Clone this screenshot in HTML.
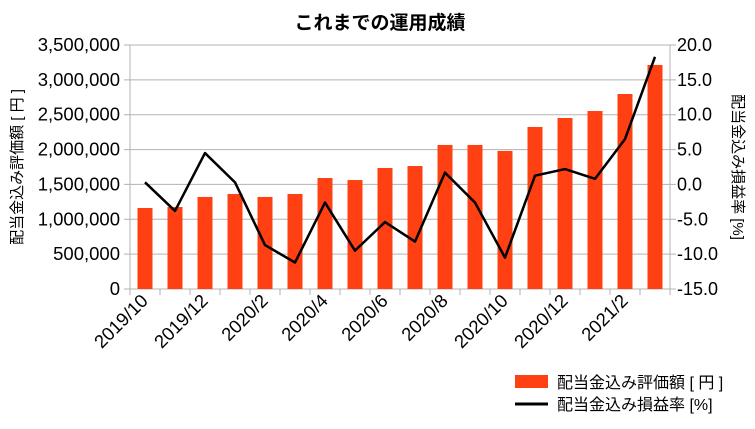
<!DOCTYPE html>
<html><head><meta charset="utf-8"><style>
body{margin:0;background:#fff}
svg text{font-family:"Liberation Sans","Noto Sans CJK JP",sans-serif}
</style></head><body>
<svg id="c" width="755" height="424" xmlns="http://www.w3.org/2000/svg">
<text x="380" y="29" text-anchor="middle" font-size="19" font-weight="bold">これまでの運用成績</text>
<g id="grid"></g><g id="bars"></g><g id="line"></g><g id="axes"></g>
<text transform="translate(22,167) rotate(-90)" text-anchor="middle" font-size="15">配当金込み評価額 [ 円 ]</text>
<text transform="translate(733,167) rotate(90)" text-anchor="middle" font-size="15">配当金込み損益率 [%]</text>
<rect x="515" y="375" width="33" height="13" fill="#ff4012"/>
<text x="557" y="388" font-size="16">配当金込み評価額 [ 円 ]</text>
<line x1="515" y1="404" x2="548" y2="404" stroke="#000" stroke-width="3"/>
<text x="557" y="410" font-size="16">配当金込み損益率 [%]</text>
</svg>
<script>
const categories=["2019/10","2019/11","2019/12","2020/1","2020/2","2020/3","2020/4","2020/5","2020/6","2020/7","2020/8","2020/9","2020/10","2020/11","2020/12","2021/1","2021/2","2021/3"];
const values=[1162000,1176000,1320000,1363000,1320000,1363000,1592000,1563000,1736000,1764000,2066000,2066000,1980000,2324000,2453000,2553000,2797000,3213000];
const rates=[0.3,-3.8,4.5,0.3,-8.7,-11.2,-2.6,-9.5,-5.4,-8.2,1.7,-2.6,-10.5,1.25,2.2,0.8,6.5,18.3];
const leftTicks=[0,500000,1000000,1500000,2000000,2500000,3000000,3500000];
const rightTicks=[-15,-10,-5,0,5,10,15,20];
const NS="http://www.w3.org/2000/svg";
const X0=130,X1=670,YT=45,YB=289;
const cw=(X1-X0)/categories.length;
const yL=v=>YB-(v/3500000)*(YB-YT);
const yR=v=>YB-((v+15)/35)*(YB-YT);
const xc=i=>X0+cw*(i+0.5);
function mk(t,a,p){const e=document.createElementNS(NS,t);for(const k in a)e.setAttribute(k,a[k]);p.appendChild(e);return e;}
const g=document.getElementById('grid'),b=document.getElementById('bars'),l=document.getElementById('line'),ax=document.getElementById('axes');
leftTicks.forEach((t,i)=>{
 const y=yL(t);
 const gl=mk('line',{x1:X0-6,x2:X1+6,y1:y,y2:y,stroke:'#b3b3b3','stroke-width':1},g);
 
 
 const tx=mk('text',{x:X0-10,y:y+6,'text-anchor':'end','font-size':18.5},ax);
 tx.textContent=t.toLocaleString('en-US');
 
 
});
rightTicks.forEach(t=>{
 const tx=mk('text',{x:X1+7,y:yR(t)+6,'font-size':18},ax);
 tx.textContent=t.toFixed(1);
 
 
});
mk('line',{x1:X0,x2:X0,y1:YT,y2:YB+6,stroke:'#b3b3b3'},ax);
mk('line',{x1:X1,x2:X1,y1:YT,y2:YB+6,stroke:'#b3b3b3'},ax);
for(let i=0;i<=categories.length;i++){mk('line',{x1:X0+cw*i,x2:X0+cw*i,y1:YB,y2:YB+6,stroke:'#b3b3b3'},ax);}
values.forEach((v,i)=>{
 const r=mk('rect',{x:xc(i)-7.5,y:yL(v),width:15,height:YB-yL(v),fill:'#ff4012'},b);
 
 
});
categories.forEach((c,i)=>{
 if(i%2)return;
 const x=xc(i)+4,y=302;
 const tx=mk('text',{x:x,y:y,'text-anchor':'end','font-size':18.5,transform:`rotate(-45 ${x} ${y})`},ax);
 tx.textContent=c;
 
 
});
const pl=mk('polyline',{points:rates.map((r,i)=>xc(i)+','+yR(r)).join(' '),fill:'none',stroke:'#000','stroke-width':2.5,'stroke-linejoin':'round'},l);


</script>
</body></html>
